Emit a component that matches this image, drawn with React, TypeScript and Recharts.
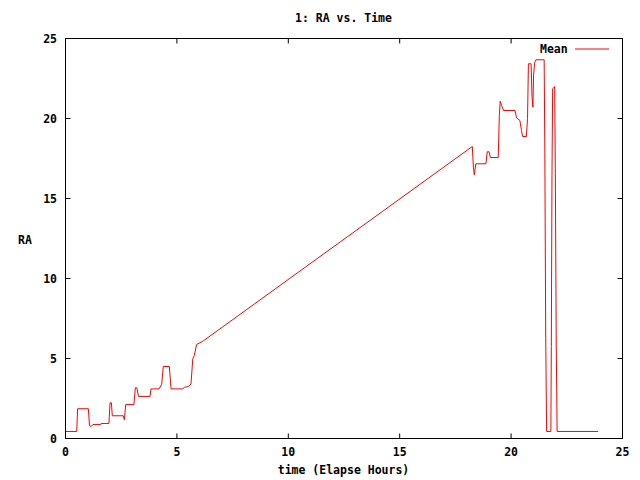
import React from 'react';
import { LineChart, Line, XAxis, YAxis } from 'recharts';

const timeHours = [
  0, 0.504, 0.544, 1.026, 1.076, 1.146, 1.227, 1.578, 1.598, 1.949, 1.999, 2.06, 2.1, 2.592, 2.642, 2.702,
  3.073, 3.134, 3.204, 3.274, 3.796, 3.836, 4.197, 4.318, 4.388, 4.659, 4.739, 5.261, 5.341, 5.512, 5.632, 5.713,
  5.783, 5.883, 6.184, 18.258, 18.308, 18.348, 18.418, 18.87, 18.93, 19.01, 19.071, 19.422, 19.472, 19.512,
  19.572, 19.663, 20.175, 20.245, 20.395, 20.466, 20.516, 20.686, 20.737, 20.777, 20.897, 20.937, 20.978, 21.008,
  21.058, 21.118, 21.484, 21.514, 21.554, 21.594, 21.785, 21.805, 21.835, 21.865, 21.956, 21.986, 22.026, 22.066,
  23.908,
];
const raMean = [
  0.44, 0.44, 1.86, 1.86, 0.81, 0.75, 0.87, 0.87, 0.94, 0.94, 2.23, 2.23, 1.42, 1.42, 1.17, 2.12,
  2.12, 3.17, 3.17, 2.63, 2.63, 3.1, 3.1, 3.39, 4.5, 4.5, 3.1, 3.1, 3.2, 3.25, 3.4, 4.98,
  5.19, 5.87, 6.1, 18.25, 16.96, 16.48, 17.17, 17.17, 17.92, 17.92, 17.56, 17.56, 20.19, 21.08,
  20.81, 20.5, 20.5, 20.04, 19.875, 19.25, 18.875, 18.875, 20.0, 23.42, 23.42, 21.4, 20.7, 22.7,
  23.5, 23.67, 23.67, 17.9, 6.23, 0.44, 0.44, 5.75, 16.44, 21.85, 22.0, 16.54, 5.85, 0.44,
  0.44,
];
const xTicks = [0, 5, 10, 15, 20, 25];
const yTicks = [0, 5, 10, 15, 20, 25];
const seriesName = 'Mean';
const titleText = '1: RA vs. Time';
const xLabel = 'time (Elapse Hours)';
const yLabel = 'RA';

const data = timeHours.map((t, i) => ({ t, v: raMean[i] }));

const FONT = '"DejaVu Sans Mono", monospace';
const black = { stroke: '#000', strokeWidth: 1 };
const TL = 5; // inward tick length
const BOTTOM_MARGIN = 9.5;
const LEFT_MARGIN = 8.5;

const textProps = { fontFamily: FONT, fontSize: 11.5, fontWeight: 'bold' as const, fill: '#000' };

const BottomTick = (props: any) => {
  const { x, y, payload } = props;
  const ay = y - BOTTOM_MARGIN;
  return (
    <g>
      <line x1={x} y1={ay} x2={x} y2={ay - TL} stroke="#000" />
      <text x={x} y={y + 8} textAnchor="middle" {...textProps}>{payload.value}</text>
    </g>
  );
};

const LeftTick = (props: any) => {
  const { x, y, payload } = props;
  const ax = x + LEFT_MARGIN;
  return (
    <g>
      <line x1={ax} y1={y} x2={ax + TL} y2={y} stroke="#000" />
      <text x={x} y={y + 4} textAnchor="end" {...textProps}>{payload.value}</text>
    </g>
  );
};

const TopTick = (props: any) => {
  const { x, y } = props;
  return <line x1={x} y1={y} x2={x} y2={y + TL} stroke="#000" />;
};

const RightTick = (props: any) => {
  const { x, y } = props;
  return <line x1={x} y1={y} x2={x - TL} y2={y} stroke="#000" />;
};

const labelStyle: React.CSSProperties = {
  position: 'absolute',
  textAlign: 'center',
  fontFamily: FONT,
  fontSize: 11.5,
  fontWeight: 'bold',
  lineHeight: '14px',
  color: '#000',
};

export default function App() {
  return (
    <div style={{ position: 'absolute', left: 0, top: 0, width: 640, height: 480, background: '#fff' }}>
      <LineChart width={640} height={480} data={data} margin={{ top: 37.5, right: 16.5, left: 0.5, bottom: 0 }}>
        <XAxis
          xAxisId="b"
          dataKey="t"
          type="number"
          domain={[0, 25]}
          ticks={xTicks}
          height={41.5}
          tickSize={0}
          tickMargin={BOTTOM_MARGIN}
          tick={<BottomTick />}
          axisLine={black}
          tickLine={false}
          allowDataOverflow
        />
        <XAxis
          xAxisId="top"
          orientation="top"
          dataKey="t"
          type="number"
          domain={[0, 25]}
          ticks={xTicks}
          height={1}
          tickSize={0}
          tickMargin={0}
          tick={<TopTick />}
          axisLine={black}
          tickLine={false}
          allowDataOverflow
        />
        <YAxis
          yAxisId="l"
          type="number"
          domain={[0, 25]}
          ticks={yTicks}
          width={65}
          tickSize={0}
          tickMargin={LEFT_MARGIN}
          tick={<LeftTick />}
          axisLine={black}
          tickLine={false}
          allowDataOverflow
        />
        <YAxis
          yAxisId="r"
          orientation="right"
          type="number"
          domain={[0, 25]}
          ticks={yTicks}
          width={1}
          tickSize={0}
          tickMargin={0}
          tick={<RightTick />}
          axisLine={black}
          tickLine={false}
          allowDataOverflow
        />
        <Line
          xAxisId="b"
          yAxisId="l"
          name={seriesName}
          dataKey="v"
          type="linear"
          stroke="#ff0000"
          strokeWidth={1}
          dot={false}
          isAnimationActive={false}
        />
      </LineChart>
      <div style={{ ...labelStyle, left: 65, width: 557, top: 11 }}>{titleText}</div>
      <div style={{ ...labelStyle, left: 65, width: 557, top: 463 }}>{xLabel}</div>
      <div style={{ ...labelStyle, left: 10, width: 30, top: 233 }}>{yLabel}</div>
      <div style={{ position: 'absolute', left: 540, top: 42, display: 'flex', alignItems: 'center', fontFamily: FONT, fontSize: 11.5, fontWeight: 'bold', color: '#000', lineHeight: '14px' }}>
        <span>{seriesName}</span>
        <svg width={44} height={10} style={{ marginLeft: 6 }}>
          <line x1={1} y1={5} x2={35} y2={5} stroke="#ff0000" strokeWidth={1} />
        </svg>
      </div>
    </div>
  );
}
